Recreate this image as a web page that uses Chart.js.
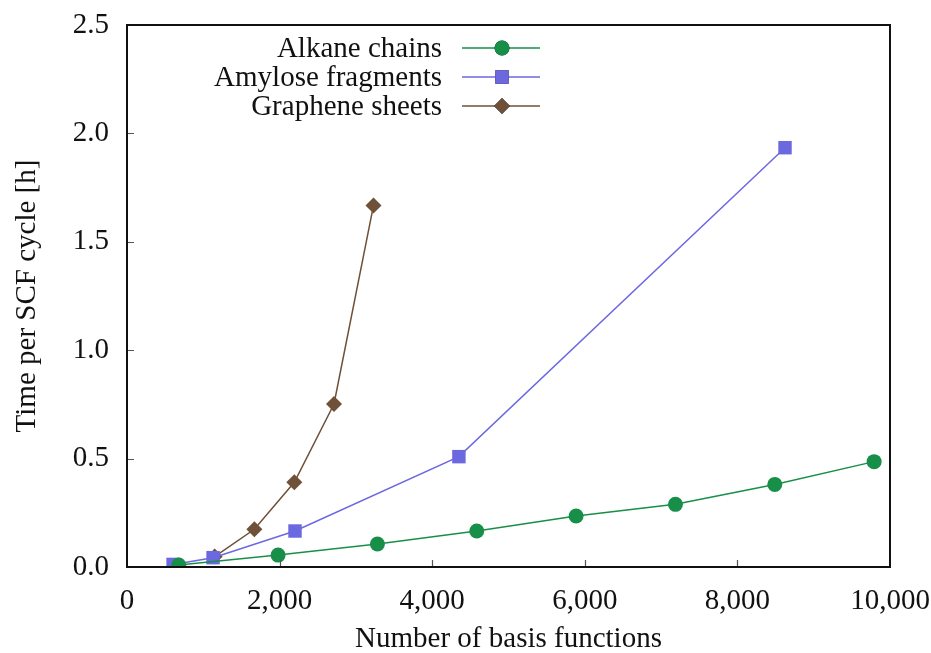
<!DOCTYPE html>
<html>
<head>
<meta charset="utf-8">
<script src="https://cdn.jsdelivr.net/npm/chart.js@4/dist/chart.umd.min.js"></script>
<style>
  html, body { margin: 0; padding: 0; background: #fff; }
  #wrap { width: 931px; height: 653px; }
</style>
</head>
<body>
<div id="wrap"><canvas id="scf" width="931" height="653"></canvas></div>
<script>
'use strict';

/* DATA */

const alkaneBasis = [678, 1980, 3282, 4584, 5886, 7188, 8490, 9792];
const alkaneHours = [0.009, 0.055, 0.106, 0.166, 0.235, 0.289, 0.381, 0.486];

const amyloseBasis = [604, 1128, 2202, 4350, 8624];
const amyloseHours = [0.012, 0.043, 0.166, 0.509, 1.934];

const grapheneBasis = [1149, 1669, 2193, 2713, 3231];
const grapheneHours = [0.048, 0.174, 0.391, 0.752, 1.668];

const seriesNames = ['Alkane chains', 'Amylose fragments', 'Graphene sheets'];
const yTicks = [0, 0.5, 1.0, 1.5, 2.0, 2.5];
const xTicks = [0, 2000, 4000, 6000, 8000, 10000];

const FONT = '"Liberation Serif", "Times New Roman", serif';
const FS = 29;

function zip(xs, ys) {
  return xs.map(function(x, i) { return { x: x, y: ys[i] }; });
}

function series(label, pts, color, style, radius) {
  return {
    label: label,
    data: pts,
    borderColor: color,
    backgroundColor: color,
    borderWidth: 1.5,
    pointStyle: style,
    pointRadius: radius,
    pointHoverRadius: radius,
    pointBorderWidth: 0,
    tension: 0
  };
}

/* PLUGINS */

// frame round the plot and inward tick marks on left and bottom
const framePlugin = {
  id: 'frame',
  afterDatasetsDraw: function(chart) {
    const ctx = chart.ctx;
    const a = chart.chartArea;
    const xs = chart.scales.x;
    const ys = chart.scales.y;
    ctx.save();
    ctx.strokeStyle = '#555';
    ctx.lineWidth = 1.2;
    ctx.beginPath();
    xTicks.forEach(function(v) {
      const px = Math.round(xs.getPixelForValue(v)) + 0.5;
      if (v === 0 || v === 10000) return;
      ctx.moveTo(px, a.bottom);
      ctx.lineTo(px, a.bottom - 7);
    });
    yTicks.forEach(function(v) {
      const py = Math.round(ys.getPixelForValue(v)) + 0.5;
      if (v === 0 || v === 2.5) return;
      ctx.moveTo(a.left, py);
      ctx.lineTo(a.left + 7, py);
    });
    ctx.stroke();
    ctx.strokeStyle = '#111';
    ctx.lineWidth = 2;
    ctx.strokeRect(a.left, a.top, a.right - a.left, a.bottom - a.top);
    ctx.restore();
  }
};

// gnuplot style key: right aligned text, sample line with marker
const keyPlugin = {
  id: 'key',
  afterDraw: function(chart) {
    const ctx = chart.ctx;
    const textRight = 442;
    const lineL = 462, lineR = 540;
    const top = 48, step = 29;
    ctx.save();
    ctx.font = FS + 'px ' + FONT;
    ctx.textAlign = 'right';
    ctx.textBaseline = 'middle';
    chart.data.datasets.forEach(function(ds, i) {
      const y = top + i * step;
      ctx.fillStyle = '#111';
      ctx.fillText(ds.label, textRight, y + 1);
      ctx.strokeStyle = ds.borderColor;
      ctx.lineWidth = 1.5;
      ctx.beginPath();
      ctx.moveTo(lineL, y);
      ctx.lineTo(lineR, y);
      ctx.stroke();
      Chart.helpers.drawPoint(ctx, {
        pointStyle: ds.pointStyle,
        radius: ds.pointRadius,
        borderWidth: 0
      }, (lineL + lineR) / 2 + 1, y);
      ctx.fillStyle = ds.backgroundColor;
      ctx.fill();
    });
    ctx.restore();
  }
};

/* CHART */

const ctx = document.getElementById('scf').getContext('2d');
const chart = new Chart(ctx, {
  type: 'line',
  data: {
    datasets: [
      series(seriesNames[0], zip(alkaneBasis, alkaneHours), '#178f48', 'circle', 7.5),
      series(seriesNames[1], zip(amyloseBasis, amyloseHours), '#6c68e0', 'rect', 9.5),
      series(seriesNames[2], zip(grapheneBasis, grapheneHours), '#6f5038', 'rectRot', 8)
    ]
  },
  options: {
    responsive: false,
    animation: false,
    events: [],
    layout: { padding: { left: 0, right: 0, top: 0, bottom: 0 } },
    plugins: {
      legend: { display: false },
      tooltip: { enabled: false }
    },
    scales: {
      x: {
        type: 'linear',
        min: 0,
        max: 10000,
        afterBuildTicks: function(scale) {
          scale.ticks = xTicks.map(function(v) { return { value: v }; });
        },
        afterFit: function(scale) {
          scale.height = 86;
          scale.paddingRight = 41;
        },
        grid: { display: false, drawTicks: false },
        border: { display: false },
        ticks: {
          color: '#111',
          padding: 17,
          font: { family: FONT, size: FS },
          maxRotation: 0,
          callback: function(v) { return v.toLocaleString('en-US'); }
        },
        title: {
          display: true,
          text: 'Number of basis functions',
          color: '#111',
          font: { family: FONT, size: FS },
          padding: { top: 0, bottom: -4 }
        }
      },
      y: {
        type: 'linear',
        min: 0,
        max: 2.5,
        afterBuildTicks: function(scale) {
          scale.ticks = yTicks.map(function(v) { return { value: v }; });
        },
        afterFit: function(scale) {
          scale.width = 127;
          scale.paddingTop = 25;
        },
        grid: { display: false, drawTicks: false },
        border: { display: false },
        ticks: {
          color: '#111',
          padding: 18,
          font: { family: FONT, size: FS },
          callback: function(v) { return v.toFixed(1); }
        },
        title: {
          display: true,
          text: 'Time per SCF cycle [h]',
          color: '#111',
          font: { family: FONT, size: FS },
          padding: { top: 10, bottom: 0 }
        }
      }
    }
  },
  plugins: [framePlugin, keyPlugin]
});
</script>
</body>
</html>
